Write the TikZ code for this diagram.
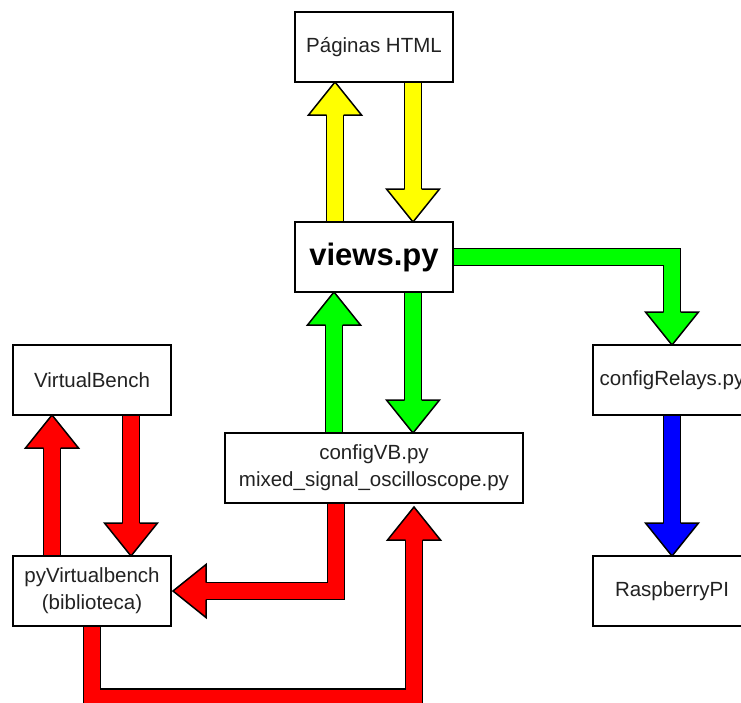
\documentclass[tikz,border=0pt]{standalone}
\usepackage{fontspec}
\setmainfont{Liberation Sans}
\usetikzlibrary{calc}
\pgfdeclarelayer{bg}
\pgfsetlayers{bg,main}
\definecolor{ylw}{HTML}{FFFF00}
\definecolor{grn}{HTML}{00FF00}
\definecolor{rd}{HTML}{FF0000}
\definecolor{blu}{HTML}{0000FF}
\definecolor{txt}{HTML}{222222}
\tikzset{
  box/.style={draw=black, fill=white, line width=1.5pt, minimum width=158pt,
    minimum height=70pt, inner sep=0pt, outer sep=0pt,
    font=\fontsize{20.5}{27}\selectfont, text=txt, align=center},
  shaft/.style={line width=1.5pt, double distance=15.5pt, line join=miter, line cap=butt},
  head/.style={line width=1.5pt, line join=miter},
}
\newcommand\barr[4]{%
  \coordinate (hb) at ($(#4)!33pt!(#3)$);
  \draw[shaft, double=#1] #2 -- ($(hb)!1pt!(#4)$);
  \filldraw[head, fill=#1] ($(hb)!8.5pt!90:(#4)$) -- ($(hb)!26.5pt!90:(#4)$) -- (#4)
    -- ($(hb)!26.5pt!-90:(#4)$) -- ($(hb)!8.5pt!-90:(#4)$);
}
\begin{document}
\begin{tikzpicture}[x=1pt, y=-1pt]
\useasboundingbox (0,0) rectangle (741,702);
\node[box] (html) at (374,47) {Páginas HTML};
\node[box, font=\fontsize{31}{36}\bfseries\selectfont, text=black] (views) at (374,257) {views.py};
\node[box] (vb) at (92,380) {VirtualBench};
\node[box] (relays) at (672,380) {configRelays.py};
\node[box, minimum width=298pt] (cfg) at (374,468) {configVB.py\\mixed\_signal\_oscilloscope.py};
\node[box] (pyv) at (92,591) {pyVirtualbench\\(biblioteca)};
\node[box] (rpi) at (672,591) {RaspberryPI};

\begin{pgfonlayer}{bg}
  % yellow
  \coordinate (y1s) at ($(views.north)+(-39,0)$);
  \coordinate (y1e) at ($(html.south)+(-39,0)$);
  \barr{ylw}{(y1s)}{y1s}{y1e}
  \coordinate (y2s) at ($(html.south)+(39,0)$);
  \coordinate (y2e) at ($(views.north)+(39,0)$);
  \barr{ylw}{(y2s)}{y2s}{y2e}
  % green
  \coordinate (g1s) at ($(cfg.north)+(-40,0)$);
  \coordinate (g1e) at ($(views.south)+(-40,0)$);
  \barr{grn}{(g1s)}{g1s}{g1e}
  \coordinate (g2s) at ($(views.south)+(39,0)$);
  \coordinate (g2e) at ($(cfg.north)+(39,0)$);
  \barr{grn}{(g2s)}{g2s}{g2e}
  \coordinate (g3c) at (views.east -| relays.north);
  \barr{grn}{(views.east) -- (g3c)}{g3c}{relays.north}
  % blue
  \barr{blu}{(relays.south)}{relays.south}{rpi.north}
  % red
  \coordinate (r1s) at ($(pyv.north)+(-40,0)$);
  \coordinate (r1e) at ($(vb.south)+(-40,0)$);
  \barr{rd}{(r1s)}{r1s}{r1e}
  \coordinate (r2s) at ($(vb.south)+(39,0)$);
  \coordinate (r2e) at ($(pyv.north)+(39,0)$);
  \barr{rd}{(r2s)}{r2s}{r2e}
  \coordinate (r3s) at ($(cfg.south)+(-38,0)$);
  \coordinate (r3c) at (r3s |- pyv.east);
  \coordinate (r3e) at ($(pyv.east)+(2,0)$);
  \barr{rd}{(r3s) -- (r3c)}{r3c}{r3e}
  \coordinate (r4e) at ($(cfg.south)+(40,4)$);
  \coordinate (r4a) at ($(pyv.south)+(0,71.5)$);
  \coordinate (r4b) at (r4a -| r4e);
  \barr{rd}{(pyv.south) -- (r4a) -- (r4b)}{r4b}{r4e}
\end{pgfonlayer}
\end{tikzpicture}
\end{document}
